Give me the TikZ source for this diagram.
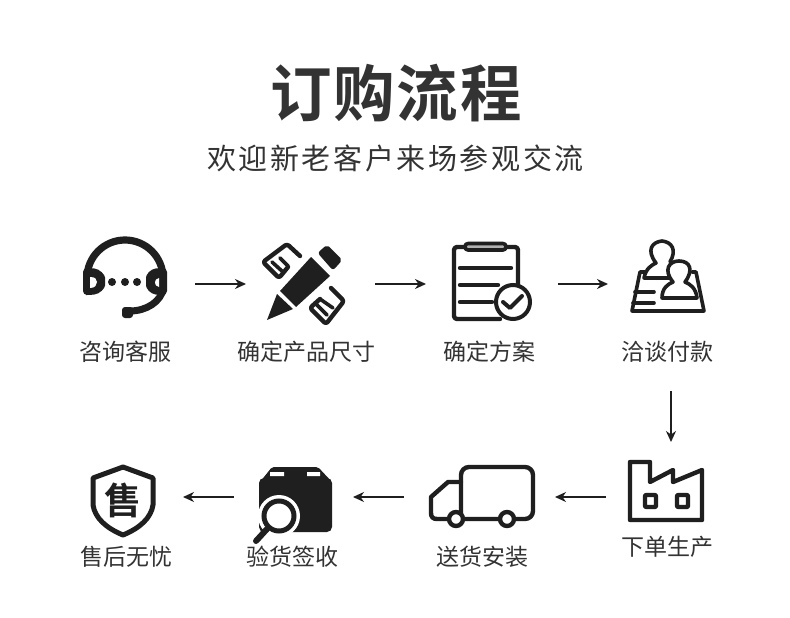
\documentclass[tikz,border=0pt]{standalone}
\usepackage{fontspec}
\setmainfont{Noto Sans CJK SC}
\newfontfamily\cjkb{Noto Sans CJK SC Bold}
\usetikzlibrary{arrows.meta}
\definecolor{ink}{HTML}{1F1F1F}
\definecolor{txt}{HTML}{333333}
\tikzset{
 lbl/.style={text=txt,font=\fontsize{23}{23}\selectfont,inner sep=0pt,anchor=center},
 flow/.style={draw=ink,line width=1.5pt,-{Stealth[length=11pt,width=10pt,inset=3.5pt]}},
 ic/.style={draw=ink,line width=4.4pt,line join=round,line cap=round},
 thin ic/.style={draw=ink,line width=3.6pt,line join=round,line cap=round},
 solid ic/.style={fill=ink,draw=ink,line width=2pt,line join=round}
}
\begin{document}
\begin{tikzpicture}[x=1pt,y=-1pt]
\useasboundingbox (0,0) rectangle (790,618);
\fill[white] (0,0) rectangle (790,618);
% headings
\node[inner sep=0pt,text=txt] (title) at (396,93) {\fontsize{61.5}{62}\cjkb\addfontfeature{LetterSpace=3}\selectfont 订购流程};
\node[inner sep=0pt,text=txt] (sub) at (395.5,158) {\fontsize{29}{29}\selectfont\addfontfeature{LetterSpace=9}欢迎新老客户来场参观交流};
% labels
\node[lbl] (l1) at (125.5,352) {咨询客服};
\node[lbl] (l2) at (306,352) {确定产品尺寸};
\node[lbl] (l3) at (489,352) {确定方案};
\node[lbl] (l4) at (667,352) {洽谈付款};
\node[lbl] (l5) at (667,547) {下单生产};
\node[lbl] (l6) at (482,557) {送货安装};
\node[lbl] (l7) at (292,557) {验货签收};
\node[lbl] (l8) at (126,557) {售后无忧};
% arrow ends
\coordinate (a1s) at (195,284); \coordinate (a1e) at (246,284);
\coordinate (a2s) at (375,284); \coordinate (a2e) at (426,284);
\coordinate (a3s) at (558,284); \coordinate (a3e) at (608,284);
\coordinate (a4s) at (671,391); \coordinate (a4e) at (671,442);
\coordinate (a5s) at (606,497); \coordinate (a5e) at (555,497);
\coordinate (a6s) at (404,497); \coordinate (a6e) at (353,497);
\coordinate (a7s) at (234,497); \coordinate (a7e) at (183,497);
\foreach \i in {1,...,7}{\draw[flow] (a\i s) -- (a\i e);}
% headset
\draw[draw=ink,line width=7.2pt] (87,278) arc[start angle=180,end angle=360,radius=38];
\draw[draw=ink,line width=7pt,line cap=round] (163.5,288) .. controls (161,302) and (146,311) .. (130,311);
\fill[ink,rounded corners=3pt] (122,307) rectangle (133,318);
\fill[ink,rounded corners=4pt] (83,268) -- (90,268) .. controls (100,269) and (105,275) .. (105,281.5) .. controls (105,288) and (100,294) .. (90,295) -- (83,295) -- cycle;
\fill[white] (90,277) .. controls (95,277) and (97,279) .. (97,282) .. controls (97,285) and (95,288) .. (90,288) -- cycle;
\fill[ink,rounded corners=4pt] (167,268) -- (160,268) .. controls (150,269) and (146,275) .. (146,281.5) .. controls (146,288) and (150,294) .. (160,295) -- (167,295) -- cycle;
\fill[white] (159,278) .. controls (156,279) and (155,280) .. (155,282.5) .. controls (155,285) and (156,286) .. (159,287) -- cycle;
\foreach \x in {112,125,137}{\fill[ink] (\x,282) circle (4);}
% pencil and ruler
\draw[ic,rounded corners=2.5pt] (300,256) -- (287,244) -- (263,262) -- (279,278) -- (288,267);
\draw[thin ic] (272,262) -- (283,272) (280,258) -- (288,266);
\draw[ic,rounded corners=2.5pt] (331,288) -- (344,301) -- (326,324) -- (310,308) -- (320,299);
\draw[thin ic] (315,303) -- (327,315) (320,299) -- (333,308);
\draw[solid ic,rounded corners=2pt] (327,246) -- (341,260) -- (333,269) -- (319,253) -- cycle;
\fill[ink] (311,257) -- (330,276) -- (296,307) -- (280,291) -- cycle;
\fill[ink] (267,320) -- (277,294) -- (293,309) -- cycle;
% clipboard
\draw[ic,rounded corners=3pt] (500,319) -- (454,319) -- (454,247) -- (518,247) -- (518,285);
\draw[draw=ink,fill=gray!60,line width=3.6pt,line join=round,rounded corners=3pt] (465,243.5) rectangle (506,250);
\draw[ic] (460,268) -- (511,268) (460,285) -- (498,285) (460,302) -- (492,302);
\draw[draw=ink,fill=white,line width=4pt] (513,302) circle (17);
\draw[draw=ink,line width=4pt,line cap=round,line join=round] (503,302) -- (510,308) -- (522,296);
% people at table
\draw[thin ic] (658,272) -- (640,272) (640,272) -- (632,311) -- (704,311) -- (696,272) -- (692,272);
\draw[thin ic] (635,292) -- (654,292) (633,303) -- (654,303);
\draw[thin ic,fill=white] (644,278) .. controls (646,268) and (652,265) .. (656,263) .. controls (646,250) and (652,242) .. (662,241) .. controls (672,242) and (677,250) .. (670,262) .. controls (674,264) and (676,266) .. (676,278) -- cycle;
\draw[thin ic,fill=white] (662,298) .. controls (662,288) and (668,284) .. (673,282) .. controls (663,270) and (669,261) .. (679,261) .. controls (690,261) and (694,270) .. (685,282) .. controls (690,284) and (696,288) .. (697,298) -- cycle;
% factory
\draw[ic] (630,462) -- (650,462) -- (650,482) -- (673,470) -- (673,482) -- (702,470) -- (702,520) -- (630,520) -- cycle;
\draw[ic,rounded corners=1pt] (645,495) rectangle (656,507);
\draw[ic,rounded corners=1pt] (677,495) rectangle (688,507);
% truck
\draw[ic,rounded corners=8pt] (461,519) -- (461,467) -- (533,467) -- (533,519) -- (461,519);
\draw[ic] (461,482) -- (448,482) -- (431,497) -- (431,513) .. controls (431,517) and (433,519) .. (437,519) -- (461,519);
\draw[ic,fill=white] (456,519) circle (7);
\draw[ic,fill=white] (507,519) circle (7);
% box with magnifier
\fill[ink,rounded corners=5pt] (259,478) rectangle (332,532);
\fill[ink,rounded corners=2pt] (260,482) -- (272,467) -- (318,467) -- (332,482) -- cycle;
\fill[white] (270,472) rectangle (284,476) (307,472) rectangle (320,476);
\fill[white] (279,516) circle (21);
\draw[draw=ink,line width=5pt] (279,516) circle (15);
\draw[draw=ink,line width=6pt,line cap=round] (267,529) -- (256,541);
% shield
\draw[ic,line width=5pt] (123,467) -- (153,478) -- (153,505) .. controls (151,518) and (140,528) .. (123,535) .. controls (106,528) and (95,518) .. (93,505) -- (93,478) -- cycle;
\node[inner sep=0pt,text=ink] (shieldtext) at (123,500) {\fontsize{37}{37}\cjkb\selectfont 售};
\end{tikzpicture}
\end{document}
